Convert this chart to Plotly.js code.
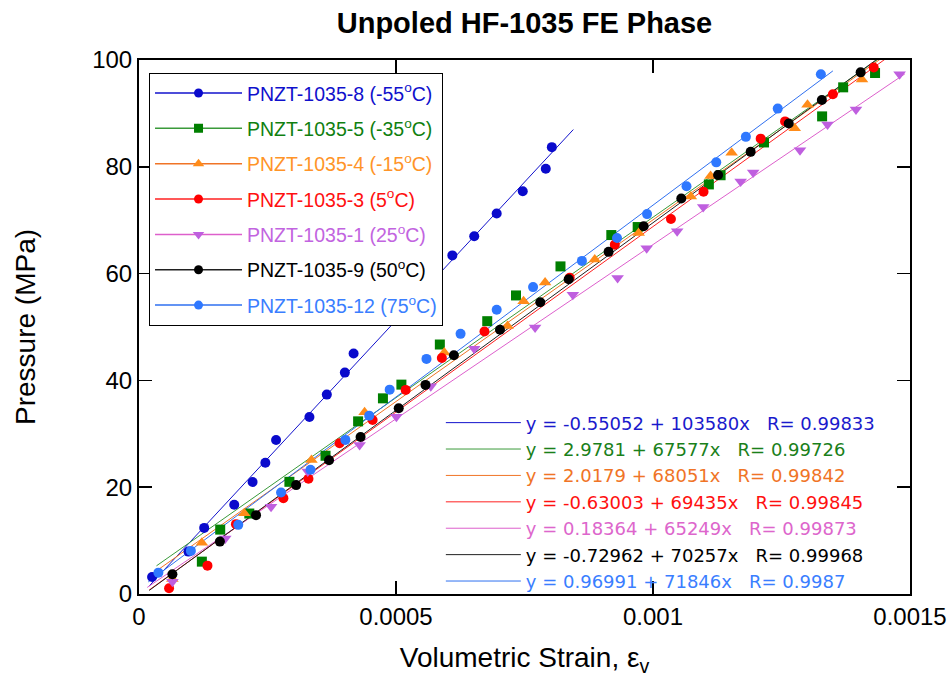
<!DOCTYPE html>
<html>
<head>
<meta charset="utf-8">
<script src="https://cdn.plot.ly/plotly-3.0.1.min.js"></script>
<style>html,body{margin:0;padding:0;background:#fff;}</style>
</head>
<body>
<div id="chart" style="width:948px;height:683px;"></div>
<script>
// ---- Data ----
const seriesNames = ['PNZT-1035-8', 'PNZT-1035-5', 'PNZT-1035-4', 'PNZT-1035-3', 'PNZT-1035-1', 'PNZT-1035-9', 'PNZT-1035-12'];
const seriesTemps = ['-55', '-35', '-15', '5', '25', '50', '75'];

const strain_m55 = [0.0000254, 0.0000962, 0.0001268, 0.0001853, 0.000221, 0.0002458, 0.0002667, 0.0003316, 0.0003654, 0.0004005, 0.0004175, 0.0006096, 0.0006522, 0.0006959, 0.0007466, 0.0007914, 0.0008032];
const press_m55  = [3.19, 7.94, 12.38, 16.70, 20.96, 24.58, 28.84, 33.15, 37.34, 41.46, 45.03, 63.41, 66.98, 71.24, 75.42, 79.64, 83.68];

const strain_m35 = [0.0001223, 0.000158, 0.0002146, 0.0002926, 0.0003629, 0.0004263, 0.0004746, 0.0005105, 0.0005853, 0.0006775, 0.0007335, 0.00082, 0.0009189, 0.0009702, 0.0011087, 0.0011315, 0.001216, 0.001329, 0.00137, 0.001432];
const press_m35  = [6.06, 12.06, 15.07, 21.01, 25.89, 32.33, 36.64, 39.21, 46.72, 51.09, 55.91, 61.35, 67.22, 68.72, 76.70, 78.42, 84.56, 89.44, 94.88, 97.56];

const strain_m15 = [0.0000649, 0.0001223, 0.0002048, 0.0003355, 0.0004389, 0.000594, 0.000717, 0.0007482, 0.0007901, 0.0008867, 0.0009721, 0.0010736, 0.001112, 0.001153, 0.0012758, 0.0013006, 0.0014066];
const press_m15  = [2.81, 9.62, 15.10, 25.10, 34.05, 45.22, 50.19, 54.84, 58.35, 62.63, 67.60, 74.45, 78.29, 82.61, 87.24, 91.61, 96.34];

const strain_p5 = [0.0000585, 0.0001332, 0.0001886, 0.0002809, 0.0003297, 0.0003902, 0.0004545, 0.0005189, 0.0005892, 0.0006721, 0.0008379, 0.0009257, 0.0010349, 0.0010983, 0.0012095, 0.0012569, 0.00135, 0.0014294];
const press_p5  = [1.07, 5.31, 13.08, 17.95, 21.58, 28.24, 32.59, 38.22, 44.18, 49.16, 59.23, 65.42, 70.23, 75.33, 85.27, 88.50, 93.58, 98.59];

const strain_p25 = [0.000065, 0.0001678, 0.0002569, 0.0003283, 0.0004292, 0.0005008, 0.0005677, 0.0006522, 0.0007706, 0.0008441, 0.0009311, 0.0009877, 0.001047, 0.0010977, 0.0011705, 0.0011949, 0.001286, 0.0013396, 0.0013949, 0.0014797];
const press_p25  = [2.3, 10.38, 16.32, 22.95, 27.92, 33.21, 38.89, 45.91, 49.91, 56.06, 59.19, 64.77, 67.92, 72.48, 77.24, 78.93, 83.11, 87.94, 90.75, 97.32];

const strain_p50 = [0.000065, 0.0001574, 0.0002277, 0.0003057, 0.0003697, 0.0004311, 0.0005053, 0.0005574, 0.0006126, 0.0007023, 0.0007807, 0.0008359, 0.0009136, 0.0009819, 0.001055, 0.0011266, 0.00119, 0.0012641, 0.0013285, 0.001404];
const press_p50  = [3.70, 9.81, 14.77, 20.39, 25.05, 29.40, 34.77, 39.16, 44.71, 49.47, 54.65, 58.95, 64.07, 68.86, 74.05, 78.48, 82.80, 88.12, 92.50, 97.69];

const strain_p75 = [0.0000377, 0.0001009, 0.0001931, 0.0002764, 0.0003336, 0.0004015, 0.0004479, 0.0004877, 0.0005593, 0.0006256, 0.0006959, 0.0007667, 0.0008617, 0.00093, 0.0009885, 0.0010652, 0.0011231, 0.0011807, 0.0012427, 0.0013266];
const press_p75  = [4.00, 8.07, 12.95, 19.01, 23.26, 28.86, 33.40, 38.27, 44.03, 48.72, 53.23, 57.47, 62.38, 66.66, 71.14, 76.36, 80.83, 85.61, 90.90, 97.32];

// Linear fits as printed on the chart: y = a + b x, R
const fitIntercept = [-0.55052, 2.9781, 2.0179, -0.63003, 0.18364, -0.72962, 0.96991];
const fitSlope     = [103580, 67577, 68051, 69435, 65249, 70257, 71846];
const fitR         = ['0.99833', '0.99726', '0.99842', '0.99845', '0.99873', '0.99968', '0.9987'];
const fitInterceptText = ['-0.55052', '2.9781', '2.0179', '-0.63003', '0.18364', '-0.72962', '0.96991'];
// x-extent over which each fit line is drawn
const fitXStart = [0.00002, 0.000034, 0.000025, 0.00002, 0.000016, 0.00002, 0.000018];
const fitXEnd   = [0.000845, 0.00146, 0.00146, 0.00146, 0.00149, 0.00146, 0.00135];

const xTickVals = [0, 0.0005, 0.001, 0.0015];
const xTickText = ['0', '0.0005', '0.001', '0.0015'];

// ---- Styles ----
const strains = [strain_m55, strain_m35, strain_m15, strain_p5, strain_p25, strain_p50, strain_p75];
const pressures = [press_m55, press_m35, press_m15, press_p5, press_p25, press_p50, press_p75];
const markerColors = ['#0a0acc', '#007f00', '#ff8c1a', '#ff0000', '#bf5fdf', '#000000', '#2f78ff'];
const legendTextColors = ['#1010cc', '#108010', '#ff9428', '#ff1010', '#c264e0', '#000000', '#3a7eff'];
const fitColors = ['#1212cc', '#3a9a3a', '#f07426', '#ff2020', '#dd5fcc', '#202020', '#2f70f0'];
const eqTextColors = ['#1a1acc', '#1a801a', '#f07426', '#ff1010', '#dd66cc', '#000000', '#3a7eff'];
const symbols = ['circle', 'square', 'triangle-up', 'circle', 'triangle-down', 'circle', 'circle'];
const sizes = [10, 10, 11, 10, 11, 10, 10];
const font = 'Arial, "Liberation Sans", sans-serif';
const eqFont = '"DejaVu Sans", Verdana, sans-serif';

const traces = [];
// fit lines (legend2 shows the equations)
for (let i = 0; i < 7; i++) {
  const xs = [fitXStart[i], fitXEnd[i]];
  const ys = xs.map(x => fitIntercept[i] + fitSlope[i] * x);
  const nb = '\u00a0';
  const label = '<span style="color:' + eqTextColors[i] + '">y = ' + fitInterceptText[i] + ' + ' + fitSlope[i] + 'x' + nb + nb + nb + 'R= ' + fitR[i] + '</span>';
  traces.push({
    x: xs, y: ys, type: 'scatter', mode: 'lines',
    line: {color: fitColors[i], width: 1},
    name: label, legend: 'legend2', hoverinfo: 'skip'
  });
}
// data markers
for (let i = 0; i < 7; i++) {
  traces.push({
    x: strains[i], y: pressures[i], type: 'scatter', mode: 'markers',
    marker: {color: markerColors[i], symbol: symbols[i], size: sizes[i], line: {width: 0}},
    showlegend: false, name: seriesNames[i]
  });
}
// legend entries (line + marker key)
for (let i = 0; i < 7; i++) {
  traces.push({
    x: [null], y: [null], type: 'scatter', mode: 'lines+markers',
    line: {color: fitColors[i], width: 1.5},
    marker: {color: markerColors[i], symbol: symbols[i], size: sizes[i] - 1, line: {width: 0}},
    name: '<span style="color:' + legendTextColors[i] + '">' + seriesNames[i] + ' (' + seriesTemps[i] + '<sup>o</sup>C)</span>',
    legend: 'legend', legendgroup: 'g' + i
  });
}

const axisCommon = {
  showline: true, linecolor: '#000', linewidth: 2, mirror: 'ticks',
  ticks: 'inside', ticklen: 13, tickwidth: 1.5, tickcolor: '#000',
  showgrid: false, zeroline: false, automargin: false,
  tickfont: {family: font, size: 24, color: '#000'}
};

const nbsp = '\u00a0';
const layout = {
  width: 948, height: 683,
  margin: {l: 139, r: 38, t: 60, b: 89},
  paper_bgcolor: '#fff', plot_bgcolor: '#fff',
  title: {text: '<b>Unpoled HF-1035 FE Phase</b>', font: {family: font, size: 29, color: '#000'},
          x: 0.5, xref: 'paper', xanchor: 'center', y: 0.966, yref: 'container', yanchor: 'middle'},
  xaxis: Object.assign({}, axisCommon, {
    range: [0, 0.0015], tickvals: xTickVals, ticktext: xTickText,
    title: {text: 'Volumetric Strain, ε<sub>v</sub>' + nbsp.repeat(5), font: {family: font, size: 28, color: '#000'}, standoff: 19}
  }),
  yaxis: Object.assign({}, axisCommon, {
    range: [0, 100], dtick: 20, tick0: 0,
    title: {text: 'Pressure (MPa)', font: {family: font, size: 28, color: '#000'}, standoff: 48}
  }),
  legend: {
    x: 0.013, y: 0.976, xanchor: 'left', yanchor: 'top',
    bgcolor: '#fff', bordercolor: '#000', borderwidth: 1,
    font: {family: font, size: 19.5, color: '#000'},
    itemwidth: 87, tracegroupgap: 7, traceorder: 'grouped'
  },
  legend2: {
    x: 0.3915, y: 0.355, xanchor: 'left', yanchor: 'top',
    bgcolor: 'rgba(0,0,0,0)', borderwidth: 0,
    font: {family: eqFont, size: 18, color: '#000'},
    itemwidth: 75, tracegroupgap: 0, traceorder: 'normal'
  },
  showlegend: true
};

Plotly.newPlot('chart', traces, layout, {displayModeBar: false, staticPlot: true});
</script>
</body>
</html>
